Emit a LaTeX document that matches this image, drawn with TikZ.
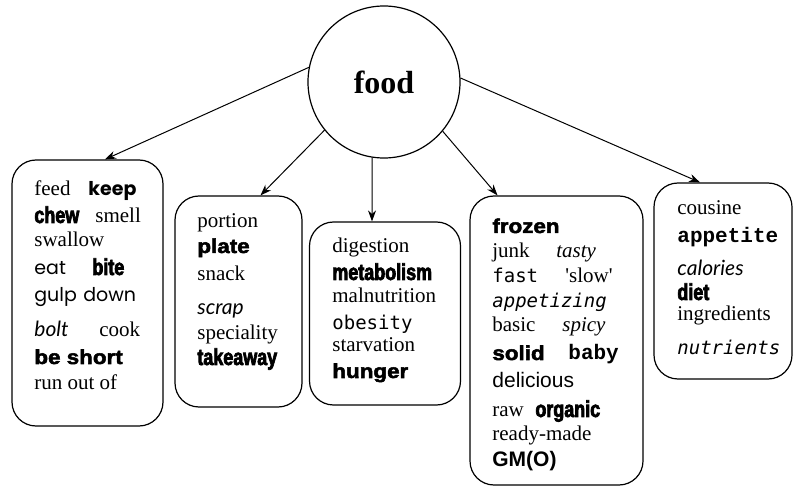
\documentclass[tikz,border=0pt]{standalone}
\usepackage{fontspec}
\setmainfont{Liberation Serif}
\newfontfamily\straightserif{Liberation Serif}
\newfontfamily\arialfont{Liberation Sans}
\newfontfamily\blackfont{Liberation Sans Bold}[FakeBold=2.5,FakeStretch=1.12]
\newfontfamily\impactfont{Liberation Sans Bold}[FakeBold=3,FakeStretch=0.78]
\newfontfamily\consfont{DejaVu Sans Mono}
\newfontfamily\courfont{Liberation Mono}
\newfontfamily\roundfont{Poppins}
\newfontfamily\comicfont{Lato}
\usetikzlibrary{arrows.meta}
\begin{document}
\begin{tikzpicture}[x=1pt,y=-1pt,thick,
    word/.style={anchor=base west,inner sep=0pt},
    serif node/.style={word,font=\fontsize{21}{21}\selectfont},
    serifit node/.style={word,font=\fontsize{21}{21}\selectfont\itshape},
    black node/.style={word,font=\fontsize{20}{20}\blackfont},
    narrow node/.style={word,font=\fontsize{23}{23}\impactfont},
    arial node/.style={word,font=\fontsize{21}{21}\arialfont},
    mono node/.style={word,font=\fontsize{19}{19}\consfont},
    courier node/.style={word,font=\fontsize{21}{21}\courfont\bfseries},
    round node/.style={word,font=\fontsize{19}{19}\roundfont},
    comic node/.style={word,font=\fontsize{21}{21}\comicfont\itshape},
    wordbox/.style={draw,rounded corners=24pt,line width=1.2pt,inner sep=0pt},
    link/.style={-{Stealth[length=11pt,width=8pt]},line width=1pt} ]
    \useasboundingbox (0,0) rectangle (793,486);
    \node at (384,82) [circle,draw,line width=1.2pt,minimum size=152pt,inner sep=0pt,
      font=\fontsize{32}{32}\selectfont\bfseries] (food) {food};
    % boxes
    \node at (87.5,293) [wordbox,minimum width=151pt,minimum height=266pt] (b1) {};
    \node at (238.5,301.5) [wordbox,minimum width=127pt,minimum height=211pt] (b2) {};
    \node at (385,313.5) [wordbox,minimum width=151pt,minimum height=183pt] (b3) {};
    \node at (556.5,340.5) [wordbox,minimum width=173pt,minimum height=289pt] (b4) {};
    \node at (723,281) [wordbox,minimum width=138pt,minimum height=196pt] (b5) {};
    \draw [link] (food.169.6) to ([xshift=17.5pt]b1.north);
    \draw [link] (food.219.4) to ([xshift=22pt]b2.north);
    \draw [link] (food.261) to ([xshift=-13pt]b3.north);
    \draw [link] (food.320) to ([xshift=-59pt]b4.north);
    \draw [link] (food.3) to ([xshift=-23pt]b5.north);
    % first box
    \node at (34,196) [serif node] (feed) {feed};
    \node at (88,196) [round node,font=\fontsize{19}{19}\roundfont\bfseries] (keep) {keep};
    \node at (34,223) [narrow node] (chew) {chew};
    \node at (95,223) [serif node] (smell) {smell};
    \node at (34,247) [serif node] (swallow) {swallow};
    \node at (34,275) [round node] (eat) {eat};
    \node at (92,275) [narrow node] (bite) {bite};
    \node at (34,302) [round node] (gulp) {gulp};
    \node at (83,302) [round node] (down) {down};
    \node at (34,337) [comic node] (bolt) {bolt};
    \node at (99,337) [serif node] (cook) {cook};
    \node at (34,364) [black node] (short) {be short};
    \node at (34,390) [serif node] (runout) {run out of};
    % second box
    \node at (197,228) [serif node] (portion) {portion};
    \node at (197,253) [black node] (plate) {plate};
    \node at (197,281) [serif node] (snack) {snack};
    \node at (197,315) [comic node] (scrap) {scrap};
    \node at (197,340) [serif node] (speciality) {speciality};
    \node at (197,365) [narrow node] (takeaway) {takeaway};
    % third box
    \node at (332,253) [serif node] (digestion) {digestion};
    \node at (332,280) [narrow node] (metabolism) {metabolism};
    \node at (332,303) [serif node] (malnutrition) {malnutrition};
    \node at (332,330) [mono node] (obesity) {obesity};
    \node at (332,352) [serif node] (starvation) {starvation};
    \node at (332,378) [black node] (hunger) {hunger};
    % fourth box
    \node at (492,233) [black node] (frozen) {frozen};
    \node at (492,258) [serif node] (junk) {junk};
    \node at (556,258) [serifit node] (tasty) {tasty};
    \node at (492,283) [mono node] (fast) {fast};
    \node at (565,283) [serif node,font=\fontsize{21}{21}\straightserif] (slow) {'slow'};
    \node at (492,308) [mono node,font=\fontsize{19}{19}\consfont\itshape] (appetizing) {appetizing};
    \node at (492,332) [serif node] (basic) {basic};
    \node at (562,332) [serifit node] (spicy) {spicy};
    \node at (492,360) [black node] (solid) {solid};
    \node at (568,360) [courier node] (baby) {baby};
    \node at (492,388) [arial node] (delicious) {delicious};
    \node at (492,417) [serif node] (raw) {raw};
    \node at (535,417) [narrow node] (organic) {organic};
    \node at (492,440) [serif node] (readymade) {ready-made};
    \node at (492,466) [arial node,font=\fontsize{21}{21}\arialfont\bfseries] (gmo) {GM(O)};
    % fifth box
    \node at (677,215) [serif node] (cousine) {cousine};
    \node at (677,243) [courier node] (appetite) {appetite};
    \node at (677,276) [comic node] (calories) {calories};
    \node at (677,300) [narrow node] (diet) {diet};
    \node at (677,321) [serif node] (ingredients) {ingredients};
    \node at (677,355) [mono node,font=\fontsize{19}{19}\consfont\itshape] (nutrients) {nutrients};
\end{tikzpicture}
\end{document}
